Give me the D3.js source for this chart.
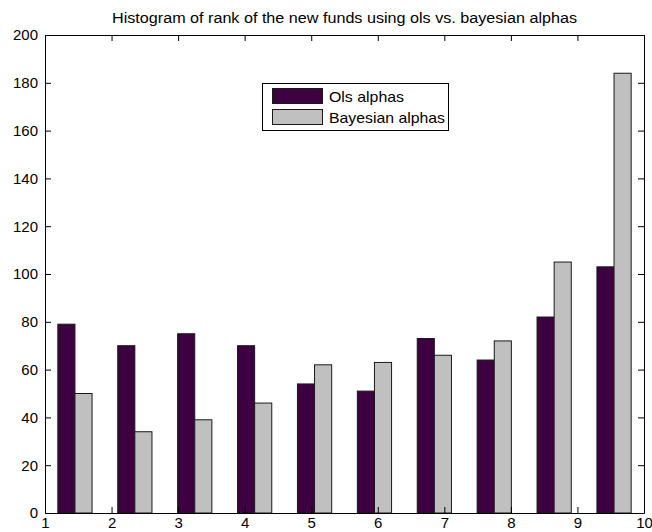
<!DOCTYPE html>
<html><head><meta charset="utf-8">
<script src="https://cdn.jsdelivr.net/npm/d3@7"></script>
<style>body{margin:0;background:#fff}svg{display:block}</style>
</head><body>
<svg id="c" width="652" height="532"></svg>
<script>
const binCenters = [1.45, 2.35, 3.25, 4.15, 5.05, 5.95, 6.85, 7.75, 8.65, 9.55];
const olsValues = [79, 70, 75, 70, 54, 51, 73, 64, 82, 103];
const bayesValues = [50, 34, 39, 46, 62, 63, 66, 72, 105, 184];
const seriesNames = ["Ols alphas", "Bayesian alphas"];
const xTicks = [1, 2, 3, 4, 5, 6, 7, 8, 9, 10];
const yTicks = [0, 20, 40, 60, 80, 100, 120, 140, 160, 180, 200];
const titleText = "Histogram of rank of the new funds using ols vs. bayesian alphas";

const colors = ["#3d0040", "#c0c0c0"];
const svg = d3.select("#c");
const L = 45, R = 644, T = 35, B = 513;
const x = d3.scaleLinear().domain([1, 10]).range([L, R]);
const y = d3.scaleLinear().domain([0, 200]).range([B, T]);
const slot = 0.9 * (2 / 3.5) / 2;
const font = "Liberation Sans, Arial, sans-serif";

// bars
const g = svg.append("g");
[olsValues, bayesValues].forEach((vals, s) => {
  g.selectAll(null).data(vals).enter().append("rect")
    .attr("x", (d, i) => x(binCenters[i] - slot + s * slot))
    .attr("width", (d, i) => x(binCenters[i] + s * slot) - x(binCenters[i] - slot + s * slot))
    .attr("y", d => y(d))
    .attr("height", d => B - y(d))
    .attr("fill", colors[s])
    .attr("stroke", "#1a1a1a")
    .attr("stroke-width", 1);
});

// axes
function style(sel, labels) {
  sel.selectAll("path.domain").attr("stroke", "#000").attr("stroke-width", 1);
  sel.selectAll(".tick line").attr("stroke", "#000");
  sel.selectAll("text").attr("font-family", font).attr("font-size", 15).attr("fill", "#000");
  if (!labels) sel.selectAll("text").remove();
}
const ax1 = svg.append("g").attr("transform", `translate(${L},0)`)
  .call(d3.axisLeft(y).tickValues(yTicks).tickSize(-6).tickSizeOuter(0).tickPadding(7));
style(ax1, true);
const ax2 = svg.append("g").attr("transform", `translate(${R},0)`)
  .call(d3.axisRight(y).tickValues(yTicks).tickSize(-6).tickSizeOuter(0));
style(ax2, false);
const ax3 = svg.append("g").attr("transform", `translate(0,${B})`)
  .call(d3.axisBottom(x).tickValues(xTicks).tickSize(-6).tickSizeOuter(0).tickPadding(4));
style(ax3, true);
const ax4 = svg.append("g").attr("transform", `translate(0,${T})`)
  .call(d3.axisTop(x).tickValues(xTicks).tickSize(-6).tickSizeOuter(0));
style(ax4, false);

// title
svg.append("text").attr("x", (L + R) / 2).attr("y", 23).attr("text-anchor", "middle")
  .attr("font-family", font).attr("font-size", 14).attr("fill", "#000")
  .attr("textLength", 465).attr("lengthAdjust", "spacingAndGlyphs")
  .text(titleText);

// legend
const lg = svg.append("g");
lg.append("rect").attr("x", 262.5).attr("y", 83.5).attr("width", 186).attr("height", 47)
  .attr("fill", "#fff").attr("stroke", "#000");
seriesNames.forEach((n, i) => {
  lg.append("rect").attr("x", 272.5).attr("y", 88.5 + i * 21).attr("width", 50).attr("height", 15)
    .attr("fill", colors[i]).attr("stroke", "#1a1a1a");
  lg.append("text").attr("x", 329).attr("y", 101.5 + i * 21)
    .attr("font-family", font).attr("font-size", 15).attr("fill", "#000")
    .attr("textLength", i === 0 ? 75 : 116).attr("lengthAdjust", "spacingAndGlyphs")
    .text(n);
});
</script>
</body></html>
